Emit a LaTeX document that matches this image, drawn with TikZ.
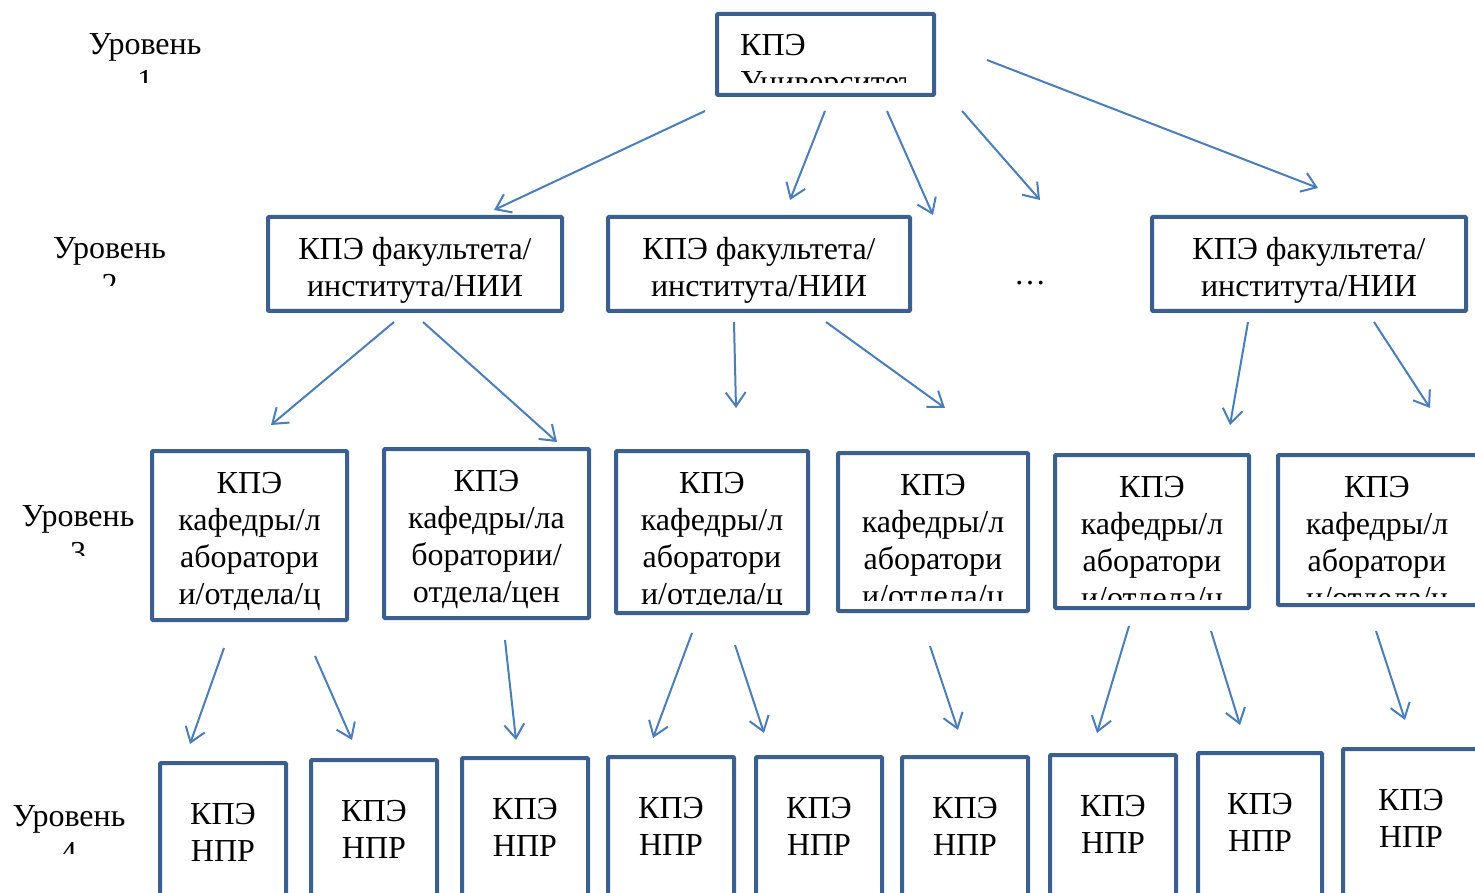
\documentclass[tikz,border=0pt]{standalone}
\usepackage{fontspec}
\setmainfont{Liberation Serif}
\usetikzlibrary{arrows.meta}
\definecolor{boxblue}{HTML}{3B5F8F}
\definecolor{arrblue}{HTML}{4A7EBB}
\tikzset{
  kbox/.style={draw=boxblue, line width=4pt, rounded corners=1pt, inner sep=0pt, outer sep=0pt},
  ktext/.style={font=\fontsize{32}{37}\selectfont, inner sep=0pt, align=center, anchor=north},
  conn/.style={draw=arrblue, line width=2pt, -{Straight Barb[length=14pt,width=20pt]}},
}
% name, x1, y1, x2, y2, clip y, text options, text top position, text
\newcommand\kpebox[9]{%
  \node[kbox, minimum width=#4-#2, minimum height=#5-#3, anchor=north west] (#1) at (#2,#3) {};
  \begin{scope}
    \clip (#2,#3) rectangle (#4,#6);
    \node[ktext, #7] (#1-t) at (#8) {\rule{0pt}{25pt}#9};
  \end{scope}}
\newcommand\levlabel[6]{% name, x, top, clip y1, clip y2, text
  \begin{scope}
    \clip (0,#4) rectangle (260,#5);
    \node[ktext] (#1) at (#2,#3) {\rule{0pt}{25pt}#6};
  \end{scope}}
\begin{document}
\begin{tikzpicture}[x=1pt,y=-1pt]
\useasboundingbox (0,0) rectangle (1475,893);
\clip (0,0) rectangle (1475,893);

% level labels
\levlabel{l1}{145}{29}{0}{83}{Уровень\\1}
\levlabel{l2}{109.5}{233}{200}{286}{Уровень\\2}
\levlabel{l3}{78}{501}{470}{555}{Уровень\\3}
\levlabel{l4}{69}{801}{770}{853}{Уровень\\4}

% level 1
\node[kbox, minimum width=217, minimum height=81, anchor=north west] (u) at (717,14) {};
\begin{scope}
  \clip (717,14) rectangle (905,83);
  \node[ktext, anchor=north west, align=left] (u-t) at (740,30) {\rule{0pt}{25pt}КПЭ\\Университета};
\end{scope}

% level 2
\kpebox{f1}{268}{217}{562}{311}{306}{}{415,234}{КПЭ факультета/\\института/НИИ}
\kpebox{f2}{608}{217}{910}{311}{306}{}{759,234}{КПЭ факультета/\\института/НИИ}
\kpebox{f3}{1152}{217}{1466}{311}{306}{}{1309,234}{КПЭ факультета/\\института/НИИ}
\node[font=\fontsize{32}{37}\selectfont, inner sep=0pt, anchor=base] (dots) at (1030,285) {…};

% level 3
\kpebox{k1}{152}{451}{347}{620}{612}{}{249.5,468}{КПЭ\\кафедры/л\\аборатори\\и/отдела/ц}
\kpebox{k2}{384}{449}{589}{618}{611}{}{486.5,466}{КПЭ\\кафедры/ла\\боратории/\\отдела/цен}
\kpebox{k3}{616}{451}{808}{613}{604}{}{712,468}{КПЭ\\кафедры/л\\аборатори\\и/отдела/ц}
\kpebox{k4}{838}{453}{1028}{611}{600}{}{933,470}{КПЭ\\кафедры/л\\аборатори\\и/отдела/ц}
\kpebox{k5}{1055}{455}{1249}{608}{599}{}{1152,472}{КПЭ\\кафедры/л\\аборатори\\и/отдела/ц}
\kpebox{k6}{1278}{455}{1477}{605}{596}{}{1377,472}{КПЭ\\кафедры/л\\аборатори\\и/отдела/ц}

% level 4
\kpebox{n1}{160}{763}{286}{905}{905}{}{223,799}{КПЭ\\НПР}
\kpebox{n2}{311}{760}{437}{905}{905}{}{374,796}{КПЭ\\НПР}
\kpebox{n3}{462}{758}{588}{905}{905}{}{525,794}{КПЭ\\НПР}
\kpebox{n4}{608}{757}{734}{905}{905}{}{671,793}{КПЭ\\НПР}
\kpebox{n5}{756}{757}{882}{905}{905}{}{819,793}{КПЭ\\НПР}
\kpebox{n6}{902}{757}{1028}{905}{905}{}{965,793}{КПЭ\\НПР}
\kpebox{n7}{1050}{755}{1176}{905}{905}{}{1113,791}{КПЭ\\НПР}
\kpebox{n8}{1198}{753}{1322}{905}{905}{}{1260,789}{КПЭ\\НПР}
\kpebox{n9}{1343}{749}{1479}{905}{905}{}{1411,785}{КПЭ\\НПР}

% connectors level 1 -> 2
\coordinate (a1s) at (705,111); \coordinate (a1e) at (494,210);
\coordinate (a2s) at (825,111); \coordinate (a2e) at (790,200);
\coordinate (a3s) at (887,111); \coordinate (a3e) at (933,215);
\coordinate (a4s) at (962,111); \coordinate (a4e) at (1040,200);
\coordinate (a5s) at (987,60);  \coordinate (a5e) at (1318,188);
% level 2 -> 3
\coordinate (b1s) at (394,322); \coordinate (b1e) at (271,425);
\coordinate (b2s) at (423,322); \coordinate (b2e) at (557,442);
\coordinate (b3s) at (734,322); \coordinate (b3e) at (736,408);
\coordinate (b4s) at (826,322); \coordinate (b4e) at (945,408);
\coordinate (b5s) at (1248,322); \coordinate (b5e) at (1230,425);
\coordinate (b6s) at (1374,322); \coordinate (b6e) at (1430,408);
% level 3 -> 4
\coordinate (c1s) at (224,648); \coordinate (c1e) at (190,744);
\coordinate (c2s) at (315,656); \coordinate (c2e) at (352,740);
\coordinate (c3s) at (505,640); \coordinate (c3e) at (516,740);
\coordinate (c4s) at (692,633); \coordinate (c4e) at (653,738);
\coordinate (c5s) at (735,645); \coordinate (c5e) at (764,733);
\coordinate (c6s) at (930,646); \coordinate (c6e) at (958,730);
\coordinate (c7s) at (1129,626); \coordinate (c7e) at (1097,733);
\coordinate (c8s) at (1211,631); \coordinate (c8e) at (1240,725);
\coordinate (c9s) at (1376,631); \coordinate (c9e) at (1405,720);

\foreach \a in {a1,a2,a3,a4,a5,b1,b2,b3,b4,b5,b6,c1,c2,c3,c4,c5,c6,c7,c8,c9}
  \draw[conn] (\a s) -- (\a e);
\end{tikzpicture}
\end{document}
